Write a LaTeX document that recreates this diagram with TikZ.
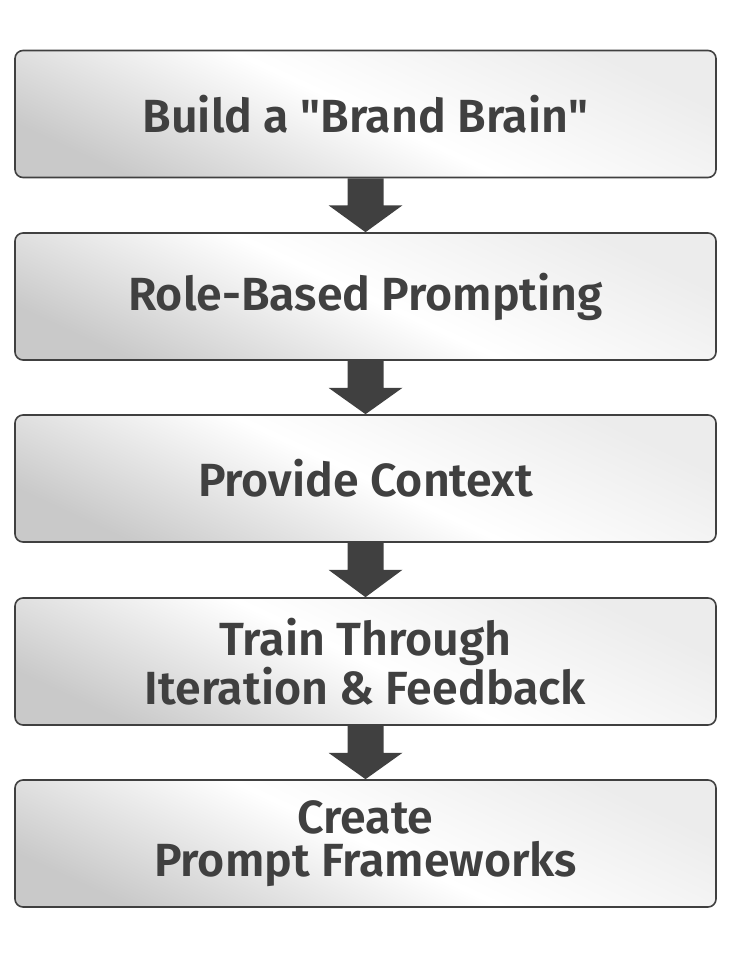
\documentclass[tikz,border=0pt]{standalone}
\usepackage{fontspec}
\setmainfont{Fira Sans}[UprightFont={* Medium},BoldFont={* SemiBold}]
\definecolor{ink}{HTML}{404040}
\begin{document}
\begin{tikzpicture}[x=1pt,y=-1pt,
  stepbox/.style={draw=ink,line width=1.6pt,rounded corners=8pt,
    minimum width=701pt,minimum height=127pt,inner sep=0pt,
    top color=gray!15,bottom color=gray!42,middle color=white,shading angle=-25,
    font=\fontsize{46.5}{43}\selectfont\bfseries,text=ink,align=center},
  blockarrow/.style={fill=ink,draw=none}]
\useasboundingbox (0,0) rectangle (729,961);
\node[stepbox] (b1) at (365.5,114) {Build a \textquotedbl Brand Brain\textquotedbl};
\node[stepbox] (b2) at (365.5,296.5) {Role-Based Prompting};
\node[stepbox] (b3) at (365.5,478.5) {Provide Context};
\node[stepbox] (b4) at (365.5,661.5) {Train Through\\Iteration \& Feedback};
\node[stepbox] (b5) at (365.5,843.5) {Create\\Prompt Frameworks};
\foreach \a/\b in {b1/b2,b2/b3,b3/b4,b4/b5}{
  \fill[blockarrow] ([xshift=-18pt]\a.south) -- ([xshift=-18pt,yshift=-27pt]\a.south)
    -- ([xshift=-37pt,yshift=-27pt]\a.south) -- (\b.north)
    -- ([xshift=37pt,yshift=-27pt]\a.south) -- ([xshift=18pt,yshift=-27pt]\a.south)
    -- ([xshift=18pt]\a.south) -- cycle;
}
\end{tikzpicture}
\end{document}
